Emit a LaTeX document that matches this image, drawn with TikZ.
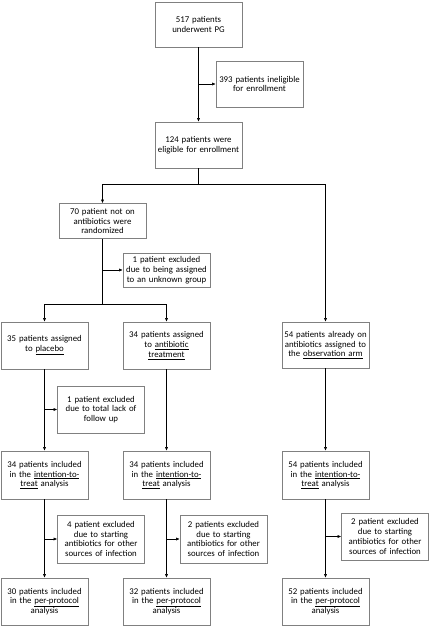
\documentclass[tikz,border=0pt]{standalone}
\usepackage{fontspec}
\setmainfont{Carlito}
\usetikzlibrary{arrows.meta}

\begin{document}
\begin{tikzpicture}[x=1pt,y=-1pt,
    box/.style={draw=black!50,line width=0.6pt,fill=white,align=center,
      inner sep=1pt,text width=84pt,minimum width=87pt,minimum height=46pt,
      font=\fontsize{8.8}{9.8}\selectfont},
    lowbox/.style={box,minimum height=35pt},
    arr/.style={-{Latex[length=3.6pt,width=3.2pt]},line width=0.6pt},
    link/.style={line width=0.6pt}]
        \useasboundingbox (0,0) rectangle (430,627);
        % enrollment
        \node[box,minimum height=45pt] (pg) at (198.5,24.5) {517 patients\\underwent PG};
        \node[box] (inel) at (259.5,84) {393 patients ineligible\\for enrollment};
        \node[box] (elig) at (198.5,145) {124 patients were\\eligible for enrollment};
        \draw [arr] (pg) -- (elig);
        \draw [arr] (pg.south |- inel) -- (inel);
        % randomization
        \coordinate (s1) at (198.5,184);
        \node[lowbox] (rand) at (102.5,221) {70 patient not on\\antibiotics were\\randomized};
        \node[lowbox,minimum height=34pt] (unk) at (166.5,270) {1 patient excluded\\due to being assigned\\to an unknown group};
        \draw [link] (elig) -- (s1);
        \draw [arr] (s1) -| (rand);
        \draw [arr] (rand.south |- unk) -- (unk);
        % allocation
        \coordinate (s2) at (102.5,304);
        \node[box,minimum height=47pt] (plac) at (44.5,345.5) {35 patients assigned\\to \underline{placebo}};
        \node[box,minimum height=47pt] (abx) at (166.5,345.5) {34 patients assigned\\to \underline{antibiotic}\\\underline{treatment}};
        \node[box] (obs) at (325.5,345) {54 patients already on\\antibiotics assigned to\\the \underline{observation arm}};
        \draw [link] (rand) -- (s2);
        \draw [arr] (s2) -| (plac);
        \draw [arr] (s2) -| (abx);
        \draw [arr] (s1) -| (obs);
        \node[box,minimum height=47pt] (fu) at (101,409.5) {1 patient excluded\\due to total lack of\\follow up};
        % intention-to-treat
        \node[box,minimum height=48pt] (itta) at (44.5,475) {34 patients included\\in the \underline{intention-to-}\\\underline{treat} analysis};
        \node[box,minimum height=48pt] (ittb) at (166.5,475) {34 patients included\\in the \underline{intention-to-}\\\underline{treat} analysis};
        \node[box,minimum height=48pt] (ittc) at (325.5,475) {54 patients included\\in the \underline{intention-to-}\\\underline{treat} analysis};
        \draw [arr] (plac) -- (itta);
        \draw [arr] (plac.south |- fu) -- (fu);
        \draw [arr] (abx) -- (ittb);
        \draw [arr] (obs) -- (ittc);
        % exclusions
        \node[box,minimum height=48pt] (exa) at (101,539) {4 patient excluded\\due to starting\\antibiotics for other\\sources of infection};
        \node[box,minimum height=48pt] (exb) at (223.5,539) {2 patients excluded\\due to starting\\antibiotics for other\\sources of infection};
        \node[box,minimum height=47pt] (exc) at (385,536.5) {2 patient excluded\\due to starting\\antibiotics for other\\sources of infection};
        % per-protocol
        \node[box,minimum height=47pt] (ppa) at (44.5,601.5) {30 patients included\\in the \underline{per-protocol}\\analysis};
        \node[box,minimum height=47pt] (ppb) at (166.5,601.5) {32 patients included\\in the \underline{per-protocol}\\analysis};
        \node[box,minimum height=47pt] (ppc) at (325.5,601.5) {52 patients included\\in the \underline{per-protocol}\\analysis};
        \draw [arr] (itta) -- (ppa);
        \draw [arr] (ittb) -- (ppb);
        \draw [arr] (ittc) -- (ppc);
        \draw [arr] (itta.south |- exa) -- (exa);
        \draw [arr] (ittb.south |- exb) -- (exb);
        \draw [arr] (ittc.south |- exc) -- (exc);
      \end{tikzpicture}
\end{document}
